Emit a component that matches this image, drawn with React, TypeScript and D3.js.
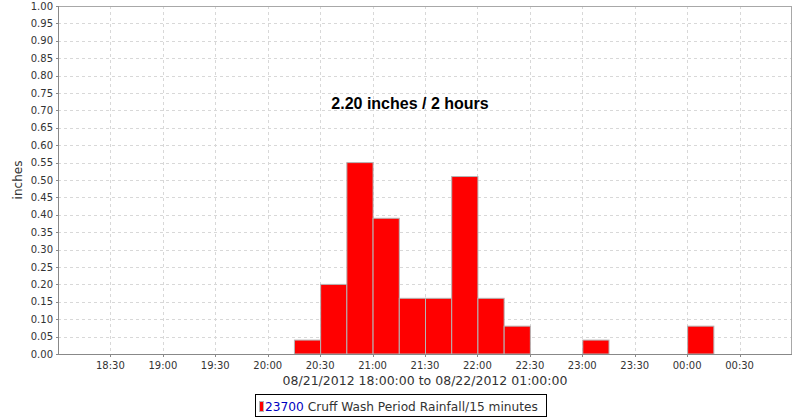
import React from "react";
import * as d3 from "d3";

const binStarts = ["20:15", "20:30", "20:45", "21:00", "21:15", "21:30", "21:45", "22:00", "22:15", "23:00", "00:00"];
const binDays = [21, 21, 21, 21, 21, 21, 21, 21, 21, 21, 22];
const rainfall = [0.04, 0.2, 0.55, 0.39, 0.16, 0.16, 0.51, 0.16, 0.08, 0.04, 0.08];
const yTicks = d3.range(0, 21).map((i) => i * 0.05);
const xTickLabels = ["18:30", "19:00", "19:30", "20:00", "20:30", "21:00", "21:30", "22:00", "22:30", "23:00", "23:30", "00:00", "00:30"];
const titleText = "2.20 inches / 2 hours";
const xAxisLabel = "08/21/2012 18:00:00 to 08/22/2012 01:00:00";
const yAxisLabel = "inches";
const legendId = "23700";
const legendText = " Cruff Wash Period Rainfall/15 minutes";

const parseT = (day: number, hm: string) => {
  const [h, m] = hm.split(":").map(Number);
  return new Date(2012, 7, day, h, m);
};

export default function App() {
  const W = 800, H = 420;
  const left = 58, right = 792, top = 6, bottom = 354;
  const x = d3.scaleTime().domain([new Date(2012, 7, 21, 18, 0), new Date(2012, 7, 22, 1, 0)]).range([left, right]);
  const y = d3.scaleLinear().domain([0, 1]).range([bottom, top]);
  const xTicks = xTickLabels.map((l) => {
    const h = +l.split(":")[0];
    return { l, t: parseT(h < 12 ? 22 : 21, l) };
  });
  const font = "'DejaVu Sans', sans-serif";
  return (
    <svg width={W} height={H} style={{ position: "absolute", left: 0, top: 0, background: "#fff" }} fontFamily={font}>
      <rect x={0} y={0} width={W} height={H} fill="#fff" />
      {/* grid */}
      {yTicks.slice(1).map((v, i) => (
        <line key={"gy" + i} x1={left} x2={right} y1={Math.round(y(v)) + 0.5} y2={Math.round(y(v)) + 0.5} stroke="#d8d8d8" strokeDasharray="3,3" />
      ))}
      {xTicks.map((d, i) => (
        <line key={"gx" + i} x1={Math.round(x(d.t)) + 0.5} x2={Math.round(x(d.t)) + 0.5} y1={top} y2={bottom} stroke="#d8d8d8" strokeDasharray="3,3" />
      ))}
      {/* bars */}
      {rainfall.map((v, i) => {
        const t0 = parseT(binDays[i], binStarts[i]);
        const t1 = d3.timeMinute.offset(t0, 15);
        const x0 = x(t0), x1 = x(t1);
        return <rect key={"b" + i} x={x0 + 0.5} y={y(v)} width={x1 - x0} height={bottom - y(v)} fill="#ff0000" stroke="#b4b4b4" strokeWidth={1} />;
      })}
      {/* plot border */}
      <rect x={left + 0.5} y={top + 0.5} width={right - left - 1} height={bottom - top} fill="none" stroke="#a8a8a8" />
      <line x1={left + 0.5} x2={left + 0.5} y1={top} y2={bottom + 1} stroke="#888" />
      <line x1={left} x2={right} y1={bottom + 0.5} y2={bottom + 0.5} stroke="#888" />
      {/* y ticks */}
      {yTicks.map((v, i) => (
        <g key={"yt" + i}>
          <line x1={left - 2} x2={left} y1={Math.round(y(v)) + 0.5} y2={Math.round(y(v)) + 0.5} stroke="#888" />
          <text x={left - 5} y={y(v)} dy="0.35em" textAnchor="end" fontSize={10} fill="#333">{v.toFixed(2)}</text>
        </g>
      ))}
      {/* x ticks */}
      {xTicks.map((d, i) => (
        <g key={"xt" + i}>
          <line x1={Math.round(x(d.t)) + 0.5} x2={Math.round(x(d.t)) + 0.5} y1={bottom} y2={bottom + 3} stroke="#888" />
          <text x={x(d.t)} y={bottom + 15} textAnchor="middle" fontSize={10} fill="#333">{d.l}</text>
        </g>
      ))}
      <text x={(left + right) / 2} y={385} textAnchor="middle" fontSize={12.5} fill="#333">{xAxisLabel}</text>
      <text transform={`translate(22,${(top + bottom) / 2}) rotate(-90)`} textAnchor="middle" fontSize={12} fill="#333">{yAxisLabel}</text>
      <text x={410} y={109} textAnchor="middle" fontSize={16} fontWeight="bold" fontFamily="'Liberation Sans', Arial, sans-serif" fill="#000">{titleText}</text>
      {/* legend */}
      <rect x={255.5} y={394.5} width={291} height={22} fill="#fff" stroke="#000" />
      <rect x={259.5} y={401.5} width={4} height={10} fill="#ff0000" stroke="#b4b4b4" />
      <text x={265} y={411} fontSize={12.2} fill="#333">
        <tspan fill="#0000c0">{legendId}</tspan>
        <tspan>{legendText}</tspan>
      </text>
    </svg>
  );
}
